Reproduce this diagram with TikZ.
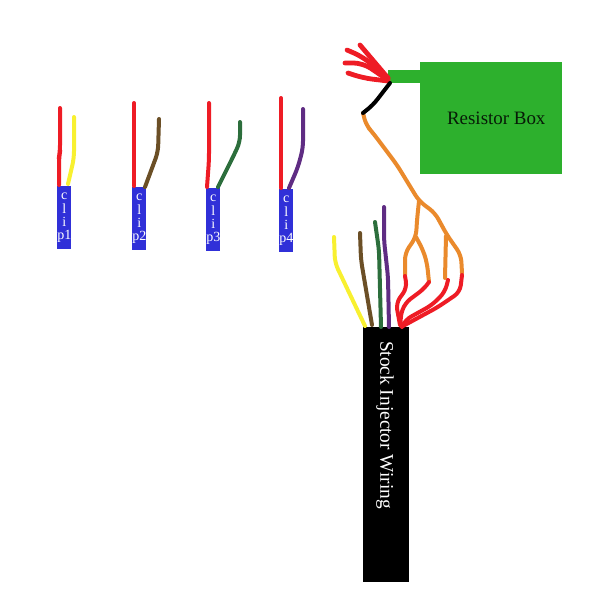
\documentclass[tikz,border=0pt]{standalone}
\usepackage{fontspec}
\setmainfont{Liberation Serif}
\definecolor{wred}{HTML}{EE1C25}
\definecolor{wyellow}{HTML}{F8F030}
\definecolor{wbrown}{HTML}{6B4F26}
\definecolor{wgreen}{HTML}{2C6E3C}
\definecolor{wpurple}{HTML}{5F2C83}
\definecolor{worange}{HTML}{EA8A2C}
\definecolor{clipblue}{HTML}{3030D8}
\definecolor{boxgreen}{HTML}{2DB02D}
\tikzset{
  wirepath/.style={line width=3pt,line cap=round,line join=round,rounded corners=5pt},
  fanpath/.style={line width=3.6pt,line cap=round,line join=round,rounded corners=7pt,wred},
  clipbox/.style={fill=clipblue,text=white,minimum width=10.5pt,minimum height=47.25pt,inner sep=0pt,align=center,font=\fontsize{10.5}{9.8}\selectfont,anchor=north west},
}
\begin{document}
\begin{tikzpicture}[x=0.75pt,y=-0.75pt]
\useasboundingbox (0,0) rectangle (600,600);
% boxes
\node[fill=boxgreen,minimum width=24pt,minimum height=9.75pt,inner sep=0pt,anchor=north west] (stub) at (388,70) {};
\node[fill=boxgreen,minimum width=106.5pt,minimum height=84pt,inner sep=0pt,anchor=north west,font=\fontsize{14.2}{16}\selectfont,text=black!85!boxgreen] (resistor) at (420,62) {\hspace*{7.5pt}Resistor Box};
\node[fill=black,minimum width=34.5pt,minimum height=191.25pt,inner sep=0pt,anchor=north west] (stock) at (363,327) {};
\node[text=white,rotate=-90,font=\fontsize{14.5}{16}\selectfont,inner sep=0pt] (stocklabel) at (385,425) {Stock Injector Wiring};
\node[clipbox] (clipa) at (57,186) {c\\l\\i\\p1};
\node[clipbox] (clipb) at (132,187) {c\\l\\i\\p2};
\node[clipbox] (clipc) at (206,188) {c\\l\\i\\p3};
\node[clipbox] (clipd) at (279,189) {c\\l\\i\\p4};
% clip wires
\draw[wirepath,wred] (60,108) -- (60,152) -- (59,157) -- (59,185);
\draw[wirepath,wyellow] (74,117) -- (74,158) -- (68,184);
\draw[wirepath,wred] (134,103) -- (134,186);
\draw[wirepath,wbrown] (159,119) -- (158,152) -- (145,187);
\draw[wirepath,wred] (209,103) -- (209,160) -- (207,187);
\draw[wirepath,wgreen] (240,122) -- (240,142) -- (233,157) -- (218,187);
\draw[wirepath,wred] (281,98) -- (281,188);
\draw[wirepath,wpurple] (303,109) -- (303,148) -- (298,167) -- (289,188);
% stock wires
\draw[wirepath,wyellow] (334,237) -- (335,263) -- (365,326);
\draw[wirepath,wbrown] (360,233) -- (361,260) -- (372,325);
\draw[wirepath,wgreen] (375,222) -- (379,250) -- (381,327);
\draw[wirepath,wpurple] (384,207) -- (384,240) -- (388,277) -- (389,327);
% orange
\draw[wirepath,worange] (363,113) -- (366,125) -- (373,133) -- (397,165) -- (419,201) -- (435,213) -- (447,235) -- (461,255) -- (462,273);
\draw[wirepath,worange] (419,201) -- (417,220) -- (416,237) -- (405,253) -- (405,275);
\draw[wirepath,worange] (416,237) -- (423,250) -- (427,263) -- (429,282);
\draw[wirepath,worange] (446,236) -- (445,278);
% red low
\draw[wirepath,wred] (405,276) -- (407,288) -- (396,303) -- (400,325);
\draw[wirepath,wred] (429,282) -- (425,288) -- (405,303) -- (400,317) -- (401,326);
\draw[wirepath,wred] (448,280) -- (445,292) -- (432,305) -- (405,320) -- (402,327);
\draw[wirepath,wred] (462,275) -- (460,292) -- (438,307) -- (403,326);
% fan
\draw[fanpath] (360,45) -- (388,78);
\draw[fanpath] (347,50) -- (363,57) -- (388,78);
\draw[fanpath] (345,63) -- (363,63) -- (388,80);
\draw[fanpath] (348,73) -- (363,78) -- (388,81);
\draw[wirepath,black] (390,83) -- (373,105) -- (363,113);
\end{tikzpicture}
\end{document}
